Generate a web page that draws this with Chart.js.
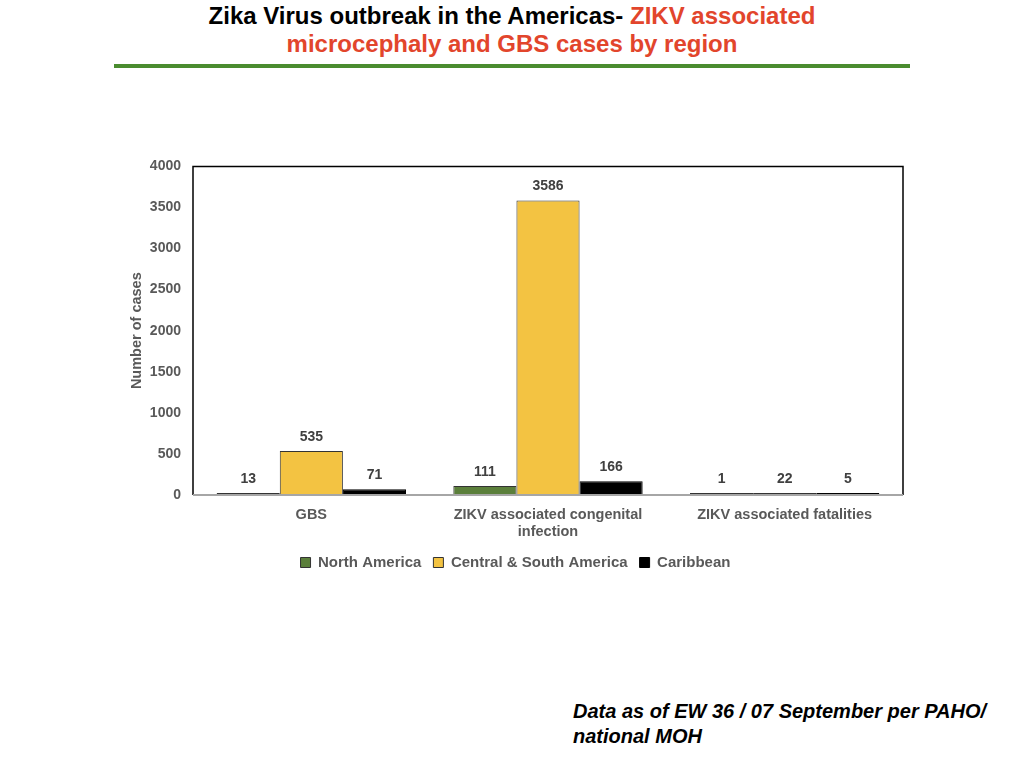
<!DOCTYPE html>
<html>
<head>
<meta charset="utf-8">
<script src="https://cdn.jsdelivr.net/npm/chart.js@4"></script>
<style>
  body { margin: 0; width: 1024px; height: 768px; background: #fff; position: relative; overflow: hidden; font-family: "Liberation Sans", Arial, sans-serif; }
  #title { position: absolute; left: 0; top: 2px; width: 1024px; text-align: center; font-family: "Liberation Sans Narrow", "Liberation Sans", sans-serif; font-weight: bold; font-size: 24px; line-height: 28px; color: #000; }
  #title .red { color: #e2452c; }
  #rule { position: absolute; left: 114px; top: 64px; width: 796px; height: 4px; background: #4a8c2f; }
  #wrap { position: absolute; left: 100px; top: 146px; width: 820px; height: 434px; }
  #note { position: absolute; left: 573px; top: 699px; font-weight: bold; font-style: italic; font-size: 20px; line-height: 25px; color: #000; }
</style>
</head>
<body>
<div id="title">Zika Virus outbreak in the Americas- <span class="red">ZIKV associated</span><br><span class="red">microcephaly and GBS cases by region</span></div>
<div id="rule"></div>
<div id="wrap"><canvas id="chart"></canvas></div>
<div id="note">Data as of EW 36 / 07 September per PAHO/<br>national MOH</div>
<script>
// Data
let categories = ["GBS", ["ZIKV associated congenital", "infection"], "ZIKV associated fatalities"];
let northAmerica = [13, 111, 1];
let centralSouth = [535, 3586, 22];
let caribbean = [71, 166, 5];
let yTicks = [0, 500, 1000, 1500, 2000, 2500, 3000, 3500, 4000];

const font = "'Liberation Sans', Arial, sans-serif";

// value labels above each bar
const valueLabels = {
  id: "valueLabels",
  afterDatasetsDraw(chart) {
    const ctx = chart.ctx;
    ctx.save();
    ctx.font = "bold 14px " + font;
    ctx.fillStyle = "#404040";
    ctx.textAlign = "center";
    ctx.textBaseline = "middle";
    chart.data.datasets.forEach((ds, i) => {
      chart.getDatasetMeta(i).data.forEach((bar, j) => {
        ctx.fillText(ds.data[j], bar.x, bar.y - 14);
      });
    });
    ctx.restore();
  }
};

// box around plot area (top/right dark, bottom axis grey)
const plotBox = {
  id: "plotBox",
  afterDraw(chart) {
    const a = chart.chartArea, ctx = chart.ctx;
    ctx.save();
    ctx.strokeStyle = "#000";
    ctx.lineWidth = 1.5;
    ctx.beginPath();
    ctx.moveTo(a.left, a.bottom);
    ctx.lineTo(a.left, a.top);
    ctx.lineTo(a.right, a.top);
    ctx.lineTo(a.right, a.bottom);
    ctx.stroke();
    ctx.strokeStyle = "#a6a6a6";
    ctx.lineWidth = 2;
    ctx.beginPath();
    ctx.moveTo(a.left, a.bottom);
    ctx.lineTo(a.right, a.bottom);
    ctx.stroke();
    ctx.restore();
  }
};

new Chart(document.getElementById("chart"), {
  type: "bar",
  data: {
    labels: categories,
    datasets: [
      { label: "North America", data: northAmerica, backgroundColor: "#5b7f3b", borderColor: "#333", borderWidth: 1 },
      { label: "Central & South America", data: centralSouth, backgroundColor: "#f3c342", borderColor: "#333", borderWidth: 1 },
      { label: "Caribbean", data: caribbean, backgroundColor: "#000", borderColor: "#000", borderWidth: 1 }
    ]
  },
  options: {
    responsive: true,
    maintainAspectRatio: false,
    animation: false,
    layout: { padding: { top: 18, right: 17, left: 28, bottom: 0 } },
    plugins: {
      legend: {
        position: "bottom",
        labels: {
          boxWidth: 10, boxHeight: 10, padding: 12,
          color: "#595959",
          font: { family: font, size: 15, weight: "bold" }
        }
      },
      tooltip: { enabled: false }
    },
    datasets: { bar: { categoryPercentage: 0.8, barPercentage: 1.0, minBarLength: 2, borderSkipped: false } },
    scales: {
      x: {
        afterFit(scale) { scale.height = 48; },
        grid: { display: false, drawTicks: false },
        border: { display: false },
        ticks: {
          color: "#595959", padding: 11, maxRotation: 0,
          font: { family: font, size: 14.5, weight: "bold" }
        }
      },
      y: {
        min: 0, max: 4000,
        afterBuildTicks(scale) { scale.ticks = yTicks.map(v => ({ value: v })); },
        afterFit(scale) { scale.width = 65; },
        grid: { display: false, drawTicks: false },
        border: { display: false },
        title: {
          display: true, text: "Number of cases", color: "#595959", padding: 0,
          font: { family: font, size: 14.5, weight: "bold" }
        },
        ticks: {
          color: "#595959", padding: 12,
          callback: v => String(v),
          font: { family: font, size: 14, weight: "bold" }
        }
      }
    }
  },
  plugins: [valueLabels, plotBox]
});
</script>
</body>
</html>
